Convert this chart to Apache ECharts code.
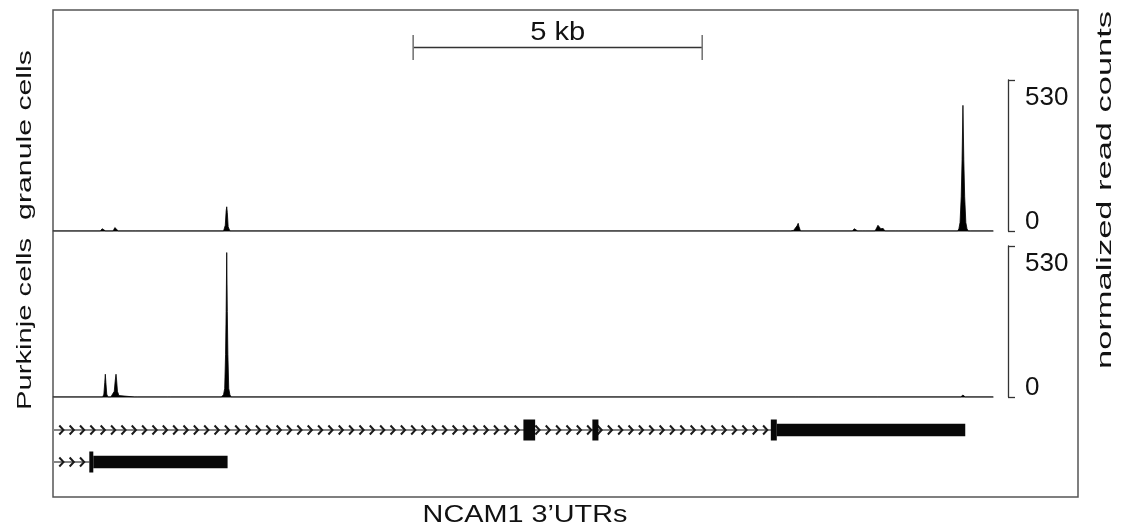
<!DOCTYPE html>
<html>
<head>
<meta charset="utf-8">
<script src="https://cdn.jsdelivr.net/npm/echarts@6/dist/echarts.min.js"></script>
<style>
  html, body { margin: 0; padding: 0; background: #fff; }
  #chart { width: 1126px; height: 532px; }
</style>
</head>
<body>
<div id="chart"></div>
<script>
// Genomic window shown, in kb from its left edge
const spanKb = 16.26;
// Read-count axis range and its two ticks
const countMax = 530;
const countTicks = [0, 530];

// Normalized read coverage in granule cells: [position kb, count]
const granuleCoverage = [
  [0, 0],
  [0.82, 0], [0.85, 8], [0.865, 12], [0.88, 8], [0.91, 0],
  [1.04, 0], [1.07, 12], [1.085, 17], [1.10, 12], [1.13, 0],
  [1.37, 0], [1.40, 6], [1.43, 0],
  [2.95, 0], [2.98, 20], [2.995, 70], [3.005, 85], [3.015, 65], [3.03, 15], [3.06, 0],
  [12.51, 0], [12.54, 4], [12.57, 0],
  [12.76, 0], [12.785, 5], [12.81, 2],
  [12.84, 4], [12.87, 18], [12.89, 27], [12.905, 15], [12.93, 0],
  [13.83, 0], [13.86, 8], [13.89, 9], [13.92, 0],
  [14.0, 0], [14.03, 5], [14.06, 0],
  [14.22, 0], [14.25, 12], [14.27, 20], [14.29, 14], [14.32, 8], [14.36, 9], [14.39, 0],
  [14.57, 0], [14.60, 4], [14.63, 0],
  [15.65, 0], [15.67, 8], [15.69, 30], [15.71, 120], [15.725, 250], [15.74, 441],
  [15.755, 250], [15.77, 120], [15.79, 30], [15.81, 8], [15.83, 0],
  [15.84, 0], [15.855, 5], [15.87, 0],
  [16.26, 0]
];

// Normalized read coverage in Purkinje cells: [position kb, count]
const purkinjeCoverage = [
  [0, 0],
  [0.86, 0], [0.88, 10], [0.895, 50], [0.905, 80], [0.915, 50], [0.93, 10], [0.95, 0],
  [1.00, 0], [1.03, 4], [1.06, 20], [1.075, 55], [1.09, 80], [1.10, 60], [1.115, 20], [1.14, 5], [1.17, 0],
  [1.41, 0], [1.436, 4], [1.46, 0],
  [1.98, 0], [2.007, 4], [2.03, 0],
  [2.87, 0], [2.89, 3], [2.91, 0],
  [2.93, 0], [2.95, 8], [2.97, 30], [2.985, 150], [2.995, 300], [3.005, 507],
  [3.015, 300], [3.025, 150], [3.04, 30], [3.06, 8], [3.08, 0],
  [12.84, 0], [12.87, 4], [12.90, 0],
  [13.20, 0], [13.22, 3], [13.24, 0],
  [14.26, 0], [14.29, 4], [14.32, 0],
  [15.70, 0], [15.73, 5], [15.74, 7], [15.75, 5], [15.78, 0],
  [16.26, 0]
];

// Transcript models, one per row: [row, start kb, end kb]
const transcriptSpans = [[0, 0, 12.42], [1, 0, 0.63]];
const codingExons = [[0, 8.137, 8.34], [0, 9.33, 9.435], [0, 12.417, 12.52], [1, 0.628, 0.697]];
const utrBlocks = [[0, 12.52, 15.78], [1, 0.697, 3.02]];

// Scale bar: [start kb, end kb]
const scaleBar = [[6.23, 11.23]];
const scaleBarLabel = '5 kb';

const trackLabels = ['granule cells', 'Purkinje cells'];
const countAxisTitle = 'normalized read counts';
const geneTitle = 'NCAM1 3\u2019UTRs';

const FONT = '"Liberation Sans", Arial, Helvetica, sans-serif';
const INK = '#111';

// Intron line with direction chevrons
function renderIntron(params, api) {
  const row = api.value(0);
  const a = api.coord([api.value(1), row]);
  const b = api.coord([api.value(2), row]);
  const children = [{
    type: 'line',
    shape: { x1: a[0], y1: a[1], x2: b[0], y2: b[1] },
    style: { stroke: '#858585', lineWidth: 2 }
  }];
  const step = 10.35, half = 4.5, depth = 4.2;
  for (let x = a[0] + 10.5; x <= b[0] - 2; x += step) {
    children.push({
      type: 'polyline',
      shape: { points: [[x - depth, a[1] - half], [x, a[1]], [x - depth, a[1] + half]] },
      style: { stroke: '#1a1a1a', lineWidth: 2, fill: null, lineJoin: 'miter' }
    });
  }
  return { type: 'group', children };
}

// Exon blocks of a given pixel thickness
function blockRenderer(thickness) {
  return function (params, api) {
    const row = api.value(0);
    const a = api.coord([api.value(1), row]);
    const b = api.coord([api.value(2), row]);
    return {
      type: 'rect',
      shape: { x: a[0], y: a[1] - thickness / 2, width: b[0] - a[0], height: thickness },
      style: { fill: '#080808' }
    };
  };
}

function renderScaleBar(params, api) {
  const a = api.coord([api.value(0), 0.5]);
  const b = api.coord([api.value(1), 0.5]);
  const top = api.coord([api.value(0), 1])[1];
  const bottom = api.coord([api.value(0), 0])[1];
  const stroke = { stroke: '#333', lineWidth: 1.4 };
  return {
    type: 'group',
    children: [
      { type: 'line', shape: { x1: a[0], y1: a[1], x2: b[0], y2: b[1] }, style: stroke },
      { type: 'line', shape: { x1: a[0], y1: top, x2: a[0], y2: bottom }, style: { stroke: '#777', lineWidth: 1.6 } },
      { type: 'line', shape: { x1: b[0], y1: top, x2: b[0], y2: bottom }, style: { stroke: '#777', lineWidth: 1.6 } },
      {
        type: 'text', x: (a[0] + b[0]) / 2, y: a[1] - 14.5, scaleX: 1.12,
        style: { text: scaleBarLabel, font: '26px ' + FONT, fill: INK, align: 'center', verticalAlign: 'middle', textAlign: 'center', textVerticalAlign: 'middle' }
      }
    ]
  };
}

const trackX = (gridIndex, showLine) => ({
  type: 'value', gridIndex, min: 0, max: spanKb,
  axisLine: { show: showLine, onZero: false, lineStyle: { color: '#666', width: 1.5 } },
  axisTick: { show: false }, axisLabel: { show: false }, splitLine: { show: false }
});

// Count axis drawn as a bracket; the end labels sit inside the bracket
const countAxis = (gridIndex) => ({
  type: 'value', gridIndex, position: 'right', offset: 15,
  min: countTicks[0], max: countMax, interval: countMax,
  axisLine: { show: true, onZero: false, lineStyle: { color: '#333', width: 1.3 } },
  axisTick: { show: true, length: 7, lineStyle: { color: '#333', width: 1.3 } },
  axisLabel: {
    show: true, color: INK, fontFamily: FONT, fontSize: 26, margin: 17,
    verticalAlignMinLabel: 'bottom', verticalAlignMaxLabel: 'top',
    formatter: (v) => (v === countMax ? '{hi|' + v + '}' : '{lo|' + v + '}'),
    rich: {
      hi: { fontSize: 26, fontFamily: FONT, color: INK, lineHeight: 35 },
      lo: { fontSize: 26, fontFamily: FONT, color: INK, lineHeight: 19 }
    }
  },
  splitLine: { show: false }
});

const hiddenY = (gridIndex, min, max, inverse) => ({
  type: 'value', gridIndex, min, max, inverse: !!inverse, show: false
});

const option = {
  animation: false,
  backgroundColor: '#fff',
  textStyle: { fontFamily: FONT },
  grid: [
    { left: 53, right: 133, top: 80, height: 151 },   // granule cells
    { left: 53, right: 133, top: 246, height: 151 },  // Purkinje cells
    { left: 53, right: 133, top: 414, height: 64 },   // transcript models
    { left: 53, right: 133, top: 35, height: 25 }     // scale bar
  ],
  xAxis: [trackX(0, true), trackX(1, true), trackX(2, false), trackX(3, false)],
  yAxis: [countAxis(0), countAxis(1), hiddenY(2, -0.5, 1.5, true), hiddenY(3, 0, 1)],
  series: [
    {
      name: trackLabels[0], type: 'line', xAxisIndex: 0, yAxisIndex: 0,
      data: granuleCoverage, symbol: 'none', silent: true,
      lineStyle: { color: '#000', width: 0.8 }, areaStyle: { color: '#000', opacity: 1 }
    },
    {
      name: trackLabels[1], type: 'line', xAxisIndex: 1, yAxisIndex: 1,
      data: purkinjeCoverage, symbol: 'none', silent: true,
      lineStyle: { color: '#000', width: 0.8 }, areaStyle: { color: '#000', opacity: 1 }
    },
    {
      type: 'custom', xAxisIndex: 2, yAxisIndex: 2, renderItem: renderIntron,
      data: transcriptSpans, encode: { x: [1, 2], y: 0 }, silent: true, z: 2
    },
    {
      type: 'custom', xAxisIndex: 2, yAxisIndex: 2, renderItem: blockRenderer(12.5),
      data: utrBlocks, encode: { x: [1, 2], y: 0 }, silent: true, z: 3
    },
    {
      type: 'custom', xAxisIndex: 2, yAxisIndex: 2, renderItem: blockRenderer(21),
      data: codingExons, encode: { x: [1, 2], y: 0 }, silent: true, z: 4
    },
    {
      type: 'custom', xAxisIndex: 3, yAxisIndex: 3, renderItem: renderScaleBar,
      data: scaleBar, encode: { x: [0, 1] }, silent: true, clip: false
    }
  ],
  graphic: [
    {
      type: 'rect', z: -10, silent: true,
      shape: { x: 53, y: 10, width: 1025, height: 487 },
      style: { fill: null, stroke: '#555', lineWidth: 1.5 }
    },
    {
      type: 'text', x: 25.5, y: 135, rotation: Math.PI / 2, scaleX: 1.44, silent: true,
      style: { text: trackLabels[0], font: '21px ' + FONT, fill: INK, align: 'center', verticalAlign: 'middle', textAlign: 'center', textVerticalAlign: 'middle' }
    },
    {
      type: 'text', x: 25.5, y: 324, rotation: Math.PI / 2, scaleX: 1.39, silent: true,
      style: { text: trackLabels[1], font: '21px ' + FONT, fill: INK, align: 'center', verticalAlign: 'middle', textAlign: 'center', textVerticalAlign: 'middle' }
    },
    {
      type: 'text', x: 1105.5, y: 190, rotation: Math.PI / 2, scaleX: 1.64, silent: true,
      style: { text: countAxisTitle, font: '21px ' + FONT, fill: INK, align: 'center', verticalAlign: 'middle', textAlign: 'center', textVerticalAlign: 'middle' }
    },
    {
      type: 'text', x: 525, y: 515, scaleX: 1.2, silent: true,
      style: { text: geneTitle, font: '24px ' + FONT, fill: INK, align: 'center', verticalAlign: 'middle', textAlign: 'center', textVerticalAlign: 'middle' }
    }
  ]
};

const chart = echarts.init(document.getElementById('chart'), null, { renderer: 'canvas' });
chart.setOption(option);
</script>
</body>
</html>
